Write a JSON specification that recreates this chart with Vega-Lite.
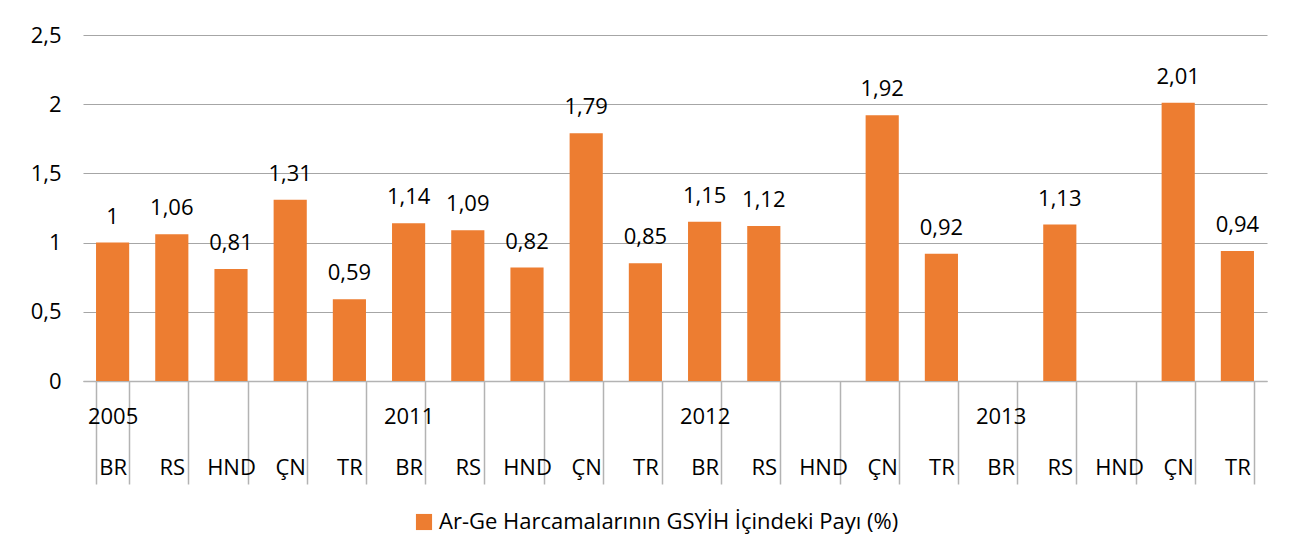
{
  "$schema": "https://vega.github.io/schema/vega-lite/v6.json",
  "autosize": {"type": "none"},
  "width": 1184,
  "height": 346,
  "padding": {"left": 83, "top": 35, "right": 26, "bottom": 177},
  "background": "white",
  "config": {
    "locale": {"number": {"decimal": ",", "thousands": ".", "grouping": [3], "currency": ["", " TL"]}},
    "font": "Open Sans",
    "view": {"stroke": null}
  },
  "data": {
    "values": [
      {"id": "2005 BR", "value": 1},
      {"id": "2005 RS", "value": 1.06},
      {"id": "2005 HND", "value": 0.81},
      {"id": "2005 ÇN", "value": 1.31},
      {"id": "2005 TR", "value": 0.59},
      {"id": "2011 BR", "value": 1.14},
      {"id": "2011 RS", "value": 1.09},
      {"id": "2011 HND", "value": 0.82},
      {"id": "2011 ÇN", "value": 1.79},
      {"id": "2011 TR", "value": 0.85},
      {"id": "2012 BR", "value": 1.15},
      {"id": "2012 RS", "value": 1.12},
      {"id": "2012 HND", "value": null},
      {"id": "2012 ÇN", "value": 1.92},
      {"id": "2012 TR", "value": 0.92},
      {"id": "2013 BR", "value": null},
      {"id": "2013 RS", "value": 1.13},
      {"id": "2013 HND", "value": null},
      {"id": "2013 ÇN", "value": 2.01},
      {"id": "2013 TR", "value": 0.94}
    ]
  },
  "encoding": {
    "x": {
      "field": "id",
      "type": "nominal",
      "sort": null,
      "scale": {
        "domain": ["2005 BR", "2005 RS", "2005 HND", "2005 ÇN", "2005 TR", "2011 BR", "2011 RS", "2011 HND", "2011 ÇN", "2011 TR", "2012 BR", "2012 RS", "2012 HND", "2012 ÇN", "2012 TR", "2013 BR", "2013 RS", "2013 HND", "2013 ÇN", "2013 TR"],
        "paddingInner": 0.44,
        "paddingOuter": 0.22
      },
      "axis": {
        "title": null,
        "labelAngle": 0,
        "labelExpr": "[indexof(datum.label, 'BR') >= 0 ? substring(datum.label, 0, 4) : '', substring(datum.label, 5)]",
        "labelFontSize": 22,
        "labelColor": "#000000",
        "labelLineHeight": 51,
        "labelPadding": -78,
        "labelBaseline": "top",
        "labelLimit": 0,
        "tickBand": "extent",
        "tickSize": 103,
        "tickColor": "#b3b3b3",
        "tickWidth": 1.5,
        "domainColor": "#b3b3b3",
        "domainWidth": 1.5
      }
    },
    "y": {
      "field": "value",
      "type": "quantitative",
      "scale": {"domain": [0, 2.5]},
      "axis": {
        "title": null,
        "values": [0, 0.5, 1, 1.5, 2, 2.5],
        "format": "~g",
        "labelFontSize": 22,
        "labelColor": "#000000",
        "labelPadding": 22,
        "ticks": false,
        "domain": false,
        "gridColor": "#a6a6a6",
        "gridWidth": 1.2
      }
    }
  },
  "layer": [
    {
      "mark": {"type": "bar", "color": "#ED7D31"},
      "encoding": {
        "color": {
          "datum": "Ar-Ge Harcamalarının GSYİH İçindeki Payı (%)",
          "type": "nominal",
          "scale": {"range": ["#ED7D31"]},
          "legend": {
            "title": null,
            "orient": "none",
            "legendX": 330,
            "legendY": 476,
            "symbolType": "square",
            "symbolSize": 260,
            "labelFontSize": 22,
            "labelLimit": 0,
            "labelColor": "#000000",
            "symbolStrokeWidth": 0
          }
        }
      }
    },
    {
      "mark": {"type": "text", "baseline": "alphabetic", "dy": -19, "fontSize": 22, "color": "#000000"},
      "encoding": {
        "text": {"field": "value", "type": "quantitative", "format": "~g"}
      }
    }
  ]
}
